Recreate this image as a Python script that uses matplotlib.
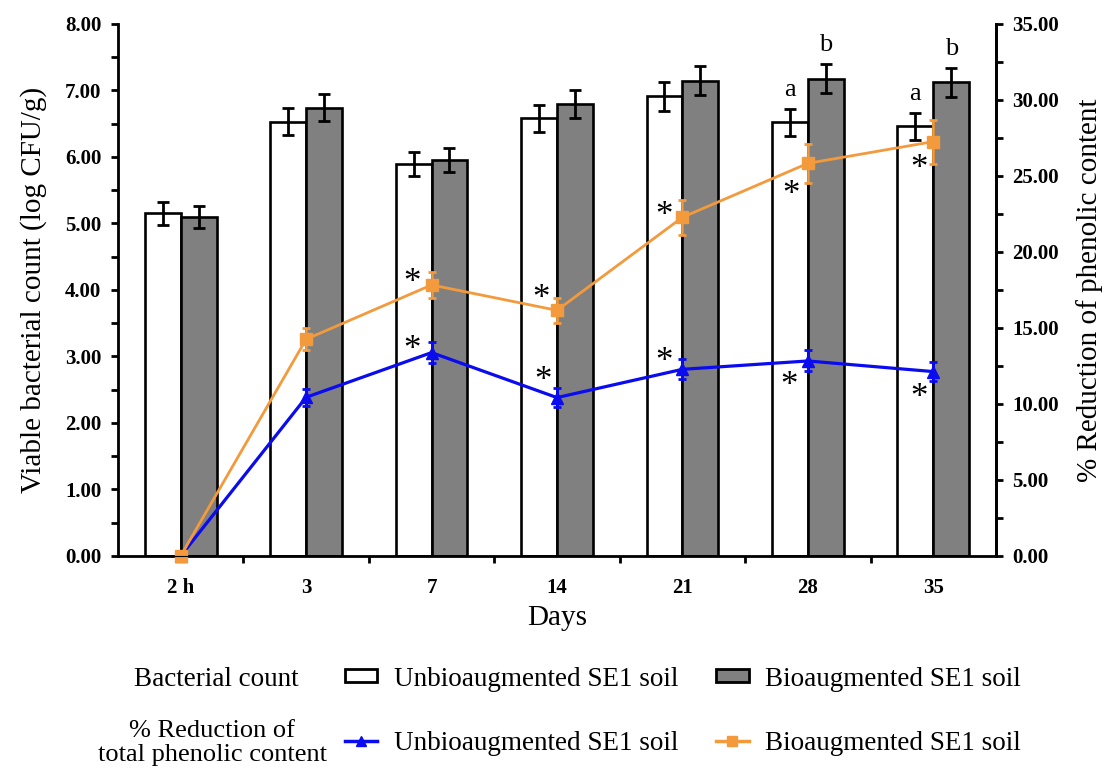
import numpy as np
import matplotlib.pyplot as plt
from matplotlib.patches import Patch
from matplotlib.lines import Line2D

plt.rcParams['font.family'] = ['Liberation Serif', 'DejaVu Serif']

# data
days = ['2 h', '3', '7', '14', '21', '28', '35']
count_unbio = [5.15, 6.53, 5.89, 6.58, 6.91, 6.52, 6.46]
count_unbio_err = [0.17, 0.20, 0.18, 0.20, 0.22, 0.20, 0.20]
count_bio = [5.10, 6.74, 5.96, 6.79, 7.15, 7.18, 7.12]
count_bio_err = [0.17, 0.20, 0.18, 0.21, 0.22, 0.22, 0.22]
red_unbio = [0.0, 10.44, 13.38, 10.42, 12.28, 12.83, 12.13]
red_unbio_err = [0.0, 0.56, 0.71, 0.60, 0.67, 0.69, 0.64]
red_bio = [0.0, 14.26, 17.83, 16.16, 22.28, 25.83, 27.26]
red_bio_err = [0.0, 0.73, 0.86, 0.80, 1.17, 1.30, 1.45]
letters_unbio = ['', '', '', '', '', 'a', 'a']
letters_bio = ['', '', '', '', '', 'b', 'b']
star_idx = [2, 3, 4, 5, 6]

# asterisk offsets (pixels) from the line points
star_off_bio = [(-20, 1), (-16, 11), (-18, 1), (-17, -32), (-14, -28)]
star_off_unbio = [(-20, 2), (-14, 16), (-18, 7), (-19, -26), (-14, -27)]

blue = '#0B0BEF'
orange = '#F39A3C'
gray = '#808080'

fig = plt.figure(figsize=(11.06, 7.71), dpi=100)
ax = fig.add_axes([0.1067, 0.2789, 0.7938, 0.6900])
x = np.arange(len(days))
w = 0.286

ax.bar(x - w/2, count_unbio, w, color='white', edgecolor='black', linewidth=1.9,
       yerr=count_unbio_err, error_kw=dict(ecolor='black', elinewidth=2, capsize=4, capthick=2))
ax.bar(x + w/2, count_bio, w, color=gray, edgecolor='black', linewidth=1.9,
       yerr=count_bio_err, error_kw=dict(ecolor='black', elinewidth=2, capsize=4, capthick=2))

for i in range(len(days)):
    if letters_unbio[i]:
        ax.annotate(letters_unbio[i], (x[i] - w/2, count_unbio[i] + count_unbio_err[i]),
                    xytext=(0, 8), textcoords='offset pixels', ha='center', va='bottom', fontsize=19)
    if letters_bio[i]:
        ax.annotate(letters_bio[i], (x[i] + w/2, count_bio[i] + count_bio_err[i]),
                    xytext=(0, 8), textcoords='offset pixels', ha='center', va='bottom', fontsize=19)

ax.set_xlim(-0.5, len(days) - 0.5)
ax.set_ylim(0, 8)
ax.set_yticks(np.arange(0, 8.01, 1))
ax.set_yticklabels(['%.2f' % v for v in np.arange(0, 8.01, 1)], fontsize=15, fontweight='bold')
ax.set_yticks(np.arange(0.5, 8, 1), minor=True)
ax.set_xticks(np.arange(0.5, len(days) - 1, 1))
ax.set_xticklabels([])
ax.set_xticks(x, minor=True)
ax.set_xticklabels(days, minor=True, fontweight='bold', fontsize=15)
ax.tick_params(axis='x', which='major', length=5, width=2, direction='out')
ax.tick_params(axis='x', which='minor', length=0, pad=16)
ax.tick_params(axis='y', which='both', length=5, width=2, direction='out', pad=7)
ax.spines['top'].set_visible(False)
for s in ['left', 'bottom', 'right']:
    ax.spines[s].set_linewidth(2)
ax.set_xlabel('Days', fontsize=21, labelpad=5)
ax.set_ylabel('Viable bacterial count (log CFU/g)', fontsize=21, labelpad=13)

ax2 = ax.twinx()
ax2.errorbar(x, red_unbio, yerr=red_unbio_err, color=blue, marker='^', ms=8, lw=2.3,
             elinewidth=2, capsize=3, capthick=2, clip_on=False)
ax2.errorbar(x, red_bio, yerr=red_bio_err, color=orange, marker='s', ms=8, lw=2,
             elinewidth=2, capsize=3, capthick=2, clip_on=False)
for k, i in enumerate(star_idx):
    ax2.annotate('*', (x[i], red_bio[i]), xytext=star_off_bio[k], textcoords='offset pixels',
                 ha='center', va='center', fontsize=25)
    ax2.annotate('*', (x[i], red_unbio[i]), xytext=star_off_unbio[k], textcoords='offset pixels',
                 ha='center', va='center', fontsize=25)
ax2.set_ylim(0, 35)
ax2.set_yticks(np.arange(0, 35.01, 5))
ax2.set_yticklabels(['%.2f' % v for v in np.arange(0, 35.01, 5)], fontsize=15, fontweight='bold')
ax2.set_yticks(np.arange(2.5, 35, 5), minor=True)
ax2.tick_params(axis='y', which='both', length=5, width=2, direction='out', pad=7)
ax2.spines['top'].set_visible(False)
ax2.spines['right'].set_linewidth(2)
ax2.set_ylabel('% Reduction of phenolic content', fontsize=21, labelpad=12)

# legend rows
h1 = [Patch(facecolor='white', edgecolor='black', linewidth=2),
      Patch(facecolor=gray, edgecolor='black', linewidth=2)]
h2 = [Line2D([], [], color=blue, marker='^', ms=7, lw=2.5),
      Line2D([], [], color=orange, marker='s', ms=7, lw=2.5)]
labels = ['Unbioaugmented SE1 soil', 'Bioaugmented SE1 soil']
for hs, yy in [(h1, 679), (h2, 743)]:
    fig.legend(hs, labels, ncol=2, loc='center left', bbox_to_anchor=(345/1106, 1 - yy/771),
               frameon=False, fontsize=19.5, handlelength=1.2, handleheight=0.35,
               handletextpad=0.6, columnspacing=1.4, borderpad=0, borderaxespad=0)
fig.text(216/1106, 1 - 679/771, 'Bacterial count', ha='center', va='center', fontsize=19.5)
fig.text(212/1106, 1 - 743/771, '% Reduction of\ntotal phenolic content', ha='center', va='center',
         fontsize=19, linespacing=1.15)

fig.savefig('out.png', dpi=100)
